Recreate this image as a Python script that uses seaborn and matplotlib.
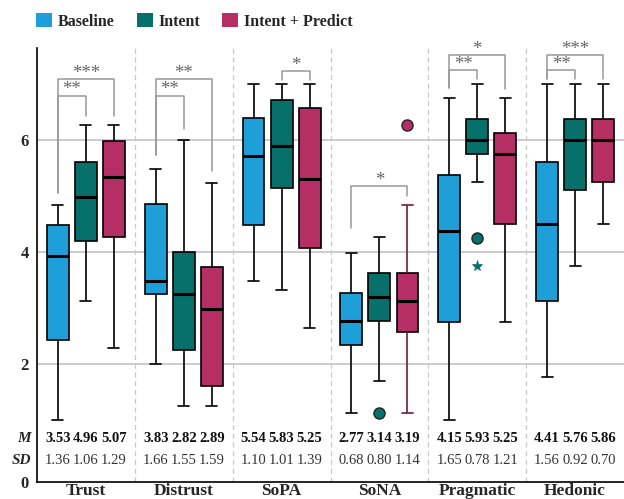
import numpy as np
import pandas as pd
import matplotlib
matplotlib.use("Agg")
import matplotlib.pyplot as plt
import seaborn as sns
from matplotlib.patches import Patch
from matplotlib.transforms import blended_transform_factory

categories = ["Trust", "Distrust", "SoPA", "SoNA", "Pragmatic", "Hedonic"]
groups = ["Baseline", "Intent", "Intent + Predict"]
colors = ["#1f9fda", "#07706b", "#b52e64"]

# box statistics (whisker low, Q1, median, Q3, whisker high)
low_baseline = [1.00, 2.00, 3.49, 1.13, 1.01, 1.77]
q1_baseline = [2.43, 3.25, 4.49, 2.35, 2.76, 3.13]
med_baseline = [3.93, 3.49, 5.73, 2.78, 4.38, 4.50]
q3_baseline = [4.49, 4.87, 6.40, 3.28, 5.38, 5.62]
high_baseline = [4.84, 5.49, 7.00, 3.99, 6.75, 7.00]

low_intent = [3.14, 1.25, 3.32, 1.71, 5.25, 3.76]
q1_intent = [4.21, 2.25, 5.15, 2.78, 5.75, 5.12]
med_intent = [4.99, 3.25, 5.90, 3.20, 6.00, 6.00]
q3_intent = [5.62, 4.00, 6.73, 3.63, 6.38, 6.38]
high_intent = [6.27, 6.00, 7.00, 4.27, 7.00, 7.00]

low_predict = [2.29, 1.25, 2.65, 1.13, 2.76, 4.50]
q1_predict = [4.27, 1.62, 4.08, 2.57, 4.50, 5.25]
med_predict = [5.35, 2.99, 5.31, 3.13, 5.75, 6.00]
q3_predict = [5.99, 3.74, 6.57, 3.63, 6.13, 6.38]
high_predict = [6.27, 5.24, 7.00, 4.84, 6.75, 7.00]

mean_baseline = [3.53, 3.83, 5.54, 2.77, 4.15, 4.41]
mean_intent = [4.96, 2.82, 5.83, 3.14, 5.93, 5.76]
mean_predict = [5.07, 2.89, 5.25, 3.19, 5.25, 5.86]
sd_baseline = [1.36, 1.66, 1.10, 0.68, 1.65, 1.56]
sd_intent = [1.06, 1.55, 1.01, 0.80, 0.78, 0.92]
sd_predict = [1.29, 1.59, 1.39, 1.14, 1.21, 0.70]

# outliers
flier_cat = [3, 3, 4, 4]
flier_group = [1, 2, 1, 1]
flier_val = [1.13, 6.27, 4.25, 3.75]
flier_marker = ["o", "o", "o", "*"]

# significance brackets
bracket_cat = [0, 0, 1, 1, 2, 3, 4, 4, 5, 5]
bracket_a = [0, 0, 0, 0, 1, 0, 0, 0, 0, 0]
bracket_b = [1, 2, 1, 2, 2, 2, 1, 2, 1, 2]
bracket_label = ["**", "***", "**", "**", "*", "*", "**", "*", "**", "***"]
bracket_top = [6.80, 7.09, 6.80, 7.09, 7.24, 5.18, 7.26, 7.53, 7.26, 7.53]
bracket_left_end = [5.06, 5.06, 5.74, 5.74, 7.07, 4.43, 6.94, 6.94, 7.10, 7.10]
bracket_right_end = [6.44, 6.44, 6.20, 5.45, 7.07, 5.01, 7.10, 6.91, 7.10, 7.10]

yticks = [2, 4, 6]

# ---------------------------------------------------------------------------
stats = {
    "Baseline": [low_baseline, q1_baseline, med_baseline, q3_baseline, high_baseline],
    "Intent": [low_intent, q1_intent, med_intent, q3_intent, high_intent],
    "Intent + Predict": [low_predict, q1_predict, med_predict, q3_predict, high_predict],
}
rows = []
for g in groups:
    for ci, c in enumerate(categories):
        for s in stats[g]:
            rows.append({"category": c, "group": g, "value": s[ci]})
df = pd.DataFrame(rows)

sns.set_theme(style="white")
plt.rcParams["font.family"] = ["Liberation Serif", "DejaVu Serif"]

fig = plt.figure(figsize=(6.24, 4.99), dpi=100)
ax = fig.add_axes([37 / 624, 1 - 482 / 499, (624 - 37) / 624, (482 - 48) / 499])

ymin, ymax = -0.1, 7.65
for y in yticks:
    ax.axhline(y, color="#c8c8c8", lw=1.3, zorder=0)
for i in range(len(categories) - 1):
    ax.axvline(i + 0.5, color="#c8c8c8", lw=0.9, ls=(0, (4, 3)), zorder=0)

width = 0.86
palette = dict(zip(groups, colors))
sns.boxplot(data=df, x="category", y="value", hue="group", order=categories,
            hue_order=groups, palette=palette, width=width, gap=0.22,
            whis=(0, 100), linecolor="black", linewidth=1.2, saturation=1,
            medianprops=dict(linewidth=2.2, color="black"), legend=False, ax=ax)

offsets = (np.arange(len(groups)) - (len(groups) - 1) / 2) * width / len(groups)

# SoNA predict whiskers drawn in dark magenta
target_x = categories.index("SoNA") + offsets[2]
for ln in ax.lines:
    xd = np.asarray(ln.get_xdata(), dtype=float)
    yd = np.asarray(ln.get_ydata(), dtype=float)
    if len(xd) and abs(xd.mean() - target_x) < 0.05:
        if not (len(yd) == 2 and abs(yd[0] - med_predict[3]) < 1e-6 and yd[0] == yd[1]):
            ln.set_color("#6e1b3c")

# outliers
for c, g, v, m in zip(flier_cat, flier_group, flier_val, flier_marker):
    if m == "o":
        ax.plot(c + offsets[g], v, marker="o", ms=8, mfc=colors[g], mec="#222222",
                mew=1.0, ls="none", zorder=5)
    else:
        ax.plot(c + offsets[g], v, marker="*", ms=8, mfc=colors[g], mec=colors[g],
                mew=0.5, ls="none", zorder=5)

# brackets
for c, a, b, lab, top, le, re in zip(bracket_cat, bracket_a, bracket_b, bracket_label,
                                      bracket_top, bracket_left_end, bracket_right_end):
    xa, xb = c + offsets[a], c + offsets[b]
    ax.plot([xa, xa, xb, xb], [le, top, top, re], color="#999999", lw=1.1, zorder=4)
    ax.text((xa + xb) / 2, top + 0.02, lab, ha="center", va="baseline",
            fontsize=13.5, color="#666666")

# M / SD rows
means = [mean_baseline, mean_intent, mean_predict]
sds = [sd_baseline, sd_intent, sd_predict]
for gi in range(len(groups)):
    for ci in range(len(categories)):
        ax.text(ci + offsets[gi], 0.67, f"{means[gi][ci]:.2f}", ha="center", va="center",
                fontsize=10.5, fontweight="bold", color="#111111")
        ax.text(ci + offsets[gi], 0.29, f"{sds[gi][ci]:.2f}", ha="center", va="center",
                fontsize=10.5, color="#333333")
tr = blended_transform_factory(ax.transAxes, ax.transData)
ax.text(-0.010, 0.67, "M", transform=tr, ha="right", va="center", fontsize=11,
        fontweight="bold", fontstyle="italic")
ax.text(-0.010, 0.29, "SD", transform=tr, ha="right", va="center", fontsize=11,
        fontweight="bold", fontstyle="italic")

ax.set_xlim(-0.5, len(categories) - 0.5)
ax.set_ylim(ymin, ymax)
ax.set_yticks([ymin] + yticks)
ax.set_yticklabels(["0"] + [str(t) for t in yticks])
ax.set_xlabel("")
ax.set_ylabel("")
ax.tick_params(axis="y", length=0, pad=6, labelsize=12)
ax.tick_params(axis="x", length=0, pad=0.5, labelsize=12.5)
for lbl in ax.get_xticklabels() + ax.get_yticklabels():
    lbl.set_fontweight("bold")
for s in ["top", "right"]:
    ax.spines[s].set_visible(False)
for s in ["left", "bottom"]:
    ax.spines[s].set_color("black")
    ax.spines[s].set_linewidth(1.2)

handles = [Patch(facecolor=col, edgecolor="none", label=g) for g, col in zip(groups, colors)]
fig.legend(handles=handles, loc="upper left", bbox_to_anchor=(36 / 624, 1 - 13 / 499),
           ncol=3, frameon=False, handlelength=1.0, handleheight=1.0, handletextpad=0.35,
           columnspacing=1.4, borderpad=0, borderaxespad=0,
           prop=dict(family="Liberation Serif", weight="bold", size=11.5))

fig.savefig("out.png", dpi=100)
